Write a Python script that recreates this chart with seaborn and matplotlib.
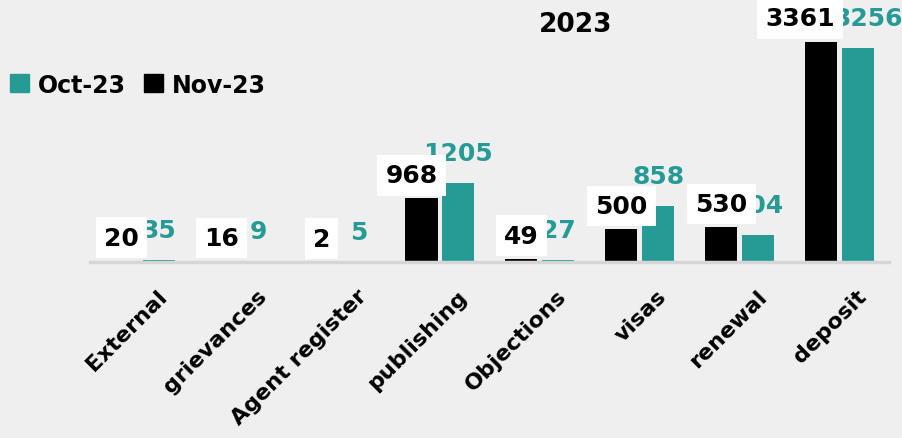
import seaborn as sns
import matplotlib.pyplot as plt
import matplotlib.transforms as mtrans
import pandas as pd
from matplotlib.patches import Patch

categories = ['External', 'grievances', 'Agent register', 'publishing',
              'Objections', 'visas', 'renewal', 'deposit']
nov_23 = [20, 16, 2, 968, 49, 500, 530, 3361]
oct_23 = [35, 9, 5, 1205, 27, 858, 404, 3256]

teal = '#269b96'
bg = '#efefef'

df = pd.DataFrame({
    'category': categories * 2,
    'month': ['Nov-23'] * len(categories) + ['Oct-23'] * len(categories),
    'value': nov_23 + oct_23,
})

sns.set_style("white")
plt.rcParams['font.family'] = ['DejaVu Sans']
plt.rcParams['text.color'] = 'black'
plt.rcParams['xtick.color'] = 'black'

fig = plt.figure(figsize=(9.03, 4.39), dpi=100, facecolor=bg)
ax = fig.add_axes([0.1, 0.401, 0.885, 0.599])
ax.set_facecolor(bg)

sns.barplot(data=df, x='category', y='value', hue='month',
            hue_order=['Nov-23', 'Oct-23'],
            palette={'Nov-23': 'black', 'Oct-23': teal}, saturation=1,
            width=0.74, gap=0.13, linewidth=0, ax=ax, legend=False)

ax.set_xlim(-0.5, 7.5)
ax.set_ylim(0, 4010)
ax.set_yticks([])
ax.set_ylabel('')
ax.set_xlabel('')
for s in ['left', 'right', 'top']:
    ax.spines[s].set_visible(False)
ax.spines['bottom'].set_color('#d6d6d6')
ax.spines['bottom'].set_linewidth(2.5)
ax.tick_params(axis='x', length=0, pad=17)

# value labels
black_labels = ax.bar_label(ax.containers[0], padding=8, fontsize=18,
                            fontweight='bold', color='black', zorder=6)
for t in black_labels:
    t.set_bbox(dict(facecolor='white', edgecolor='none', pad=6))
teal_labels = ax.bar_label(ax.containers[1], padding=13, fontsize=18,
                           fontweight='bold', color=teal, zorder=5)
for t in black_labels + teal_labels:
    t.set_clip_on(False)
# nudge the crowded ones like in the original slide
black_labels[3].xyann = (-7, 8)
black_labels[7].xyann = (-15, 8)
teal_labels[7].xyann = (7, 13)

offset = mtrans.ScaledTranslation(12 / 72, 0, fig.dpi_scale_trans)
for lbl in ax.get_xticklabels():
    lbl.set_rotation(45)
    lbl.set_ha('right')
    lbl.set_rotation_mode('anchor')
    lbl.set_fontsize(16)
    lbl.set_fontweight('heavy')
    lbl.set_transform(lbl.get_transform() + offset)

fig.text(0.637, 0.943, '2023', ha='center', va='center', fontsize=19,
         fontweight='bold')

handles = [Patch(color=teal, label='Oct-23'), Patch(color='black', label='Nov-23')]
fig.legend(handles=handles, loc='center left', bbox_to_anchor=(-0.012, 0.805),
           ncol=2, frameon=False, prop={'size': 17, 'weight': 'bold'},
           handlelength=0.8, handleheight=0.8, handletextpad=0.35, columnspacing=0.8)

fig.savefig('out.png', dpi=100, facecolor=bg)
